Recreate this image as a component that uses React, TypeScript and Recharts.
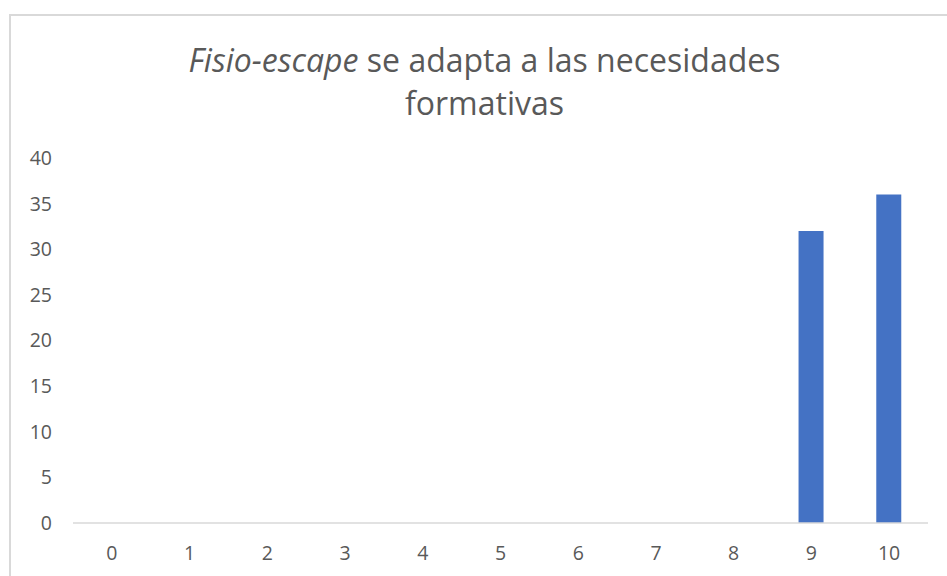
import React from "react";
import { BarChart, Bar, XAxis, YAxis } from "recharts";

// scores 0..10 and how many answers got each one
const scores = ["0", "1", "2", "3", "4", "5", "6", "7", "8", "9", "10"];
const counts = [0, 0, 0, 0, 0, 0, 0, 0, 0, 32, 36];
const yTicks = [0, 5, 10, 15, 20, 25, 30, 35, 40];

const data = scores.map((s, i) => ({ score: s, count: counts[i] }));

const font = "'Open Sans', 'Segoe UI', sans-serif";
const grey = "#595959";

export default function App() {
    return (
        <div style={{ position: "fixed", left: 0, top: 0, width: 947, height: 576, overflow: "hidden", background: "#fff", fontFamily: font }}>
            {/* chart frame, runs off the right and bottom edges */}
            <div style={{ position: "absolute", left: 9, top: 14, width: 960, height: 600, border: "2px solid #d9d9d9", boxSizing: "border-box" }} />
            <div style={{ position: "absolute", left: 0, top: 38, width: 969, textAlign: "center", fontSize: 32, lineHeight: "43px", color: grey }}>
                <i>Fisio-escape</i> se adapta a las necesidades
                <br />
                formativas
            </div>
            <div style={{ position: "absolute", left: 0, top: 0 }}>
                <BarChart width={947} height={576} data={data} margin={{ top: 158, right: 19, bottom: 0, left: 0 }}>
                    <XAxis
                        dataKey="score"
                        height={53}
                        tickLine={false}
                        tickSize={0}
                        tickMargin={23}
                        axisLine={{ stroke: "#d9d9d9", strokeWidth: 1.5 }}
                        tick={{ fill: grey, fontSize: 19.5, fontFamily: font }}
                    />
                    <YAxis
                        width={73}
                        domain={[0, 40]}
                        ticks={yTicks}
                        interval={0}
                        axisLine={false}
                        tickLine={false}
                        tickSize={0}
                        tickMargin={21}
                        tick={{ fill: grey, fontSize: 19.5, fontFamily: font }}
                    />
                    <Bar dataKey="count" fill="#4472c4" barSize={25} isAnimationActive={false} />
                </BarChart>
            </div>
        </div>
    );
}
